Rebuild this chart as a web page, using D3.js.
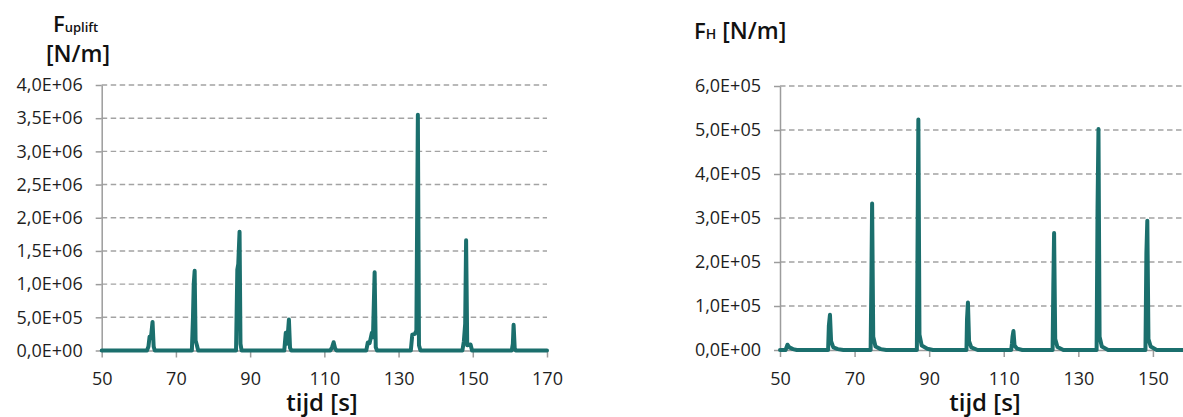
<!DOCTYPE html>
<html>
<head>
<meta charset="utf-8">
<script src="https://cdn.jsdelivr.net/npm/d3@7"></script>
<style>
  html, body { margin: 0; padding: 0; background: #fff; }
  svg { display: block; font-family: "Open Sans", sans-serif; }
</style>
</head>
<body>
<div class="canvas"></div>
<script>
// time axis ticks (s)
const timeTicks = [50, 70, 90, 110, 130, 150, 170];

// F_uplift [N/m]
const upliftTicks = [0, 5e5, 1e6, 1.5e6, 2e6, 2.5e6, 3e6, 3.5e6, 4e6];
const upliftTime = [
  50, 62.2, 62.6, 62.9, 63.3, 63.7, 64.0, 64.3,
  74.3, 74.6, 74.8, 75.05, 75.3, 75.6, 76.0,
  86.2, 86.55, 86.8, 87.15, 87.4, 87.7,
  99.2, 99.6, 99.9, 100.1, 100.45, 100.75, 101.1,
  111.6, 112.1, 112.5, 112.9, 113.3,
  121.3, 121.7, 122.2, 122.8, 123.1, 123.55, 123.85, 124.2,
  133.3, 133.7, 134.4, 134.8, 135.2, 135.5, 135.9,
  147.2, 147.6, 147.95, 148.2, 148.5, 149.4, 149.8,
  160.5, 160.8, 161.0, 161.3, 161.6, 170,
];
const upliftForce = [
  0, 0, 60e3, 206e3, 210e3, 431e3, 60e3, 0,
  0, 500e3, 1.0e6, 1.2e6, 150e3, 90e3, 0,
  0, 1.22e6, 1.3e6, 1.79e6, 100e3, 0,
  0, 266e3, 100e3, 200e3, 466e3, 40e3, 0,
  0, 50e3, 125e3, 30e3, 0,
  0, 120e3, 110e3, 266e3, 200e3, 1.18e6, 50e3, 0,
  0, 240e3, 250e3, 300e3, 3.55e6, 80e3, 0,
  0, 140e3, 400e3, 1.66e6, 80e3, 90e3, 0,
  0, 100e3, 387e3, 30e3, 0, 0,
];

// F_H [N/m]
const horTicks = [0, 1e5, 2e5, 3e5, 4e5, 5e5, 6e5];
const horTime = [
  50, 51.5, 52.0, 52.5, 53.5, 54.5,
  62.9, 63.1, 63.4, 63.7, 64.3, 65.5, 67,
  74.3, 74.5, 74.7, 75.0, 75.6, 77, 78.5,
  86.7, 87.1, 87.4, 88, 89.5, 91,
  100.0, 100.15, 100.4, 100.7, 101.3, 103,
  112.0, 112.2, 112.35, 112.6, 112.9, 113.6, 115,
  123.1, 123.3, 123.5, 123.8, 124.4, 126,
  134.9, 135.15, 135.4, 135.7, 136.3, 138,
  148.0, 148.25, 148.5, 148.8, 149.4, 151, 170,
];
const horForce = [
  0, 0, 12e3, 6e3, 2e3, 0,
  0, 55e3, 80e3, 20e3, 6e3, 2e3, 0,
  0, 150e3, 333e3, 30e3, 8e3, 2e3, 0,
  0, 524e3, 35e3, 10e3, 3e3, 0,
  0, 70e3, 108e3, 20e3, 6e3, 0,
  0, 15e3, 30e3, 43e3, 10e3, 3e3, 0,
  0, 150e3, 266e3, 25e3, 7e3, 0,
  0, 322e3, 502e3, 30e3, 8e3, 0,
  0, 220e3, 294e3, 25e3, 8e3, 0, 0,
];

const width = 1183;
const height = 417;
const lineColor = "#1b6f6d";
const gridColor = "#a3a3a3";

// "4,0E+06" style
const sci = (v) => {
  const [m, e] = v.toExponential(1).split("e");
  const sign = e[0] === "-" ? "-" : "+";
  const exp = e.replace(/[+-]/, "").padStart(2, "0");
  return m.replace(".", ",") + "E" + sign + exp;
};

const svg = d3
  .select(".canvas")
  .append("svg")
  .attr("width", width)
  .attr("height", height);

const drawPanel = (cfg) => {
  const x = d3.scaleLinear().domain([50, 170]).range(cfg.xRange);
  const y = d3.scaleLinear().domain(cfg.yDomain).range(cfg.yRange);
  const g = svg.append("g");

  // gridlines
  g.selectAll("line.grid")
    .data(cfg.yTicks.slice(1))
    .enter()
    .append("line")
    .attr("class", "grid")
    .attr("x1", cfg.xRange[0])
    .attr("x2", cfg.xRange[1])
    .attr("y1", (d) => y(d))
    .attr("y2", (d) => y(d))
    .attr("stroke", gridColor)
    .attr("stroke-width", 1.4)
    .attr("stroke-dasharray", "5.5,3.5");

  const yAxis = d3
    .axisLeft(y)
    .tickValues(cfg.yTicks)
    .tickFormat(sci)
    .tickSize(6)
    .tickSizeOuter(0)
    .tickPadding(13);

  const yG = g
    .append("g")
    .attr("transform", `translate(${cfg.xRange[0]},0)`)
    .call(yAxis);

  // only the ticks that fall inside the picture
  const xAxis = d3
    .axisBottom(x)
    .tickValues(timeTicks.filter((t) => x(t) < width))
    .tickFormat(d3.format("d"))
    .tickSize(7)
    .tickSizeOuter(0)
    .tickPadding(15);

  const xG = g
    .append("g")
    .attr("transform", `translate(0,${cfg.yRange[0]})`)
    .call(xAxis);

  [yG, xG].forEach((a) => {
    a.select(".domain").attr("stroke", "#9c9c9c").attr("stroke-width", 1.5);
    a.selectAll(".tick line").attr("stroke", "#9c9c9c").attr("stroke-width", 1.5);
    a.selectAll(".tick text")
      .attr("fill", "#1e1e1e")
      .style("font-size", "18px")
      .style("font-family", '"Open Sans", sans-serif');
  });

  const line = d3
    .line()
    .x((d) => x(d[0]))
    .y((d) => y(d[1]));

  g.append("path")
    .datum(d3.zip(cfg.time, cfg.force))
    .attr("d", line)
    .attr("fill", "none")
    .attr("stroke", lineColor)
    .attr("stroke-width", 4)
    .attr("stroke-linejoin", "round")
    .attr("stroke-linecap", "round");

  // x title
  g.append("text")
    .attr("x", cfg.xTitleX)
    .attr("y", 411)
    .attr("text-anchor", "middle")
    .attr("fill", "#111")
    .style("font-size", "24px")
    .style("font-weight", 600)
    .text("tijd [s]");

  return g;
};

const left = drawPanel({
  xRange: [101.7, 547],
  yDomain: [0, 4e6],
  yRange: [350.5, 85],
  yTicks: upliftTicks,
  time: upliftTime,
  force: upliftForce,
  xTitleX: 322,
});

const right = drawPanel({
  xRange: [780, 1227.5],
  yDomain: [0, 6e5],
  yRange: [350, 86],
  yTicks: horTicks,
  time: horTime,
  force: horForce,
  xTitleX: 985,
});

// y titles
const t1 = left
  .append("text")
  .attr("x", 53)
  .attr("y", 32)
  .attr("fill", "#111")
  .style("font-weight", 600);
t1.append("tspan").style("font-size", "22px").text("F");
t1.append("tspan").style("font-size", "13px").text("uplift");

left
  .append("text")
  .attr("x", 46)
  .attr("y", 62)
  .attr("fill", "#111")
  .style("font-size", "23px")
  .style("font-weight", 600)
  .text("[N/m]");

const t2 = right
  .append("text")
  .attr("x", 694)
  .attr("y", 39)
  .attr("fill", "#111")
  .style("font-weight", 600);
t2.append("tspan").style("font-size", "22px").text("F");
t2.append("tspan").style("font-size", "14px").text("H");
t2.append("tspan").style("font-size", "23px").text(" [N/m]");
</script>
</body>
</html>
